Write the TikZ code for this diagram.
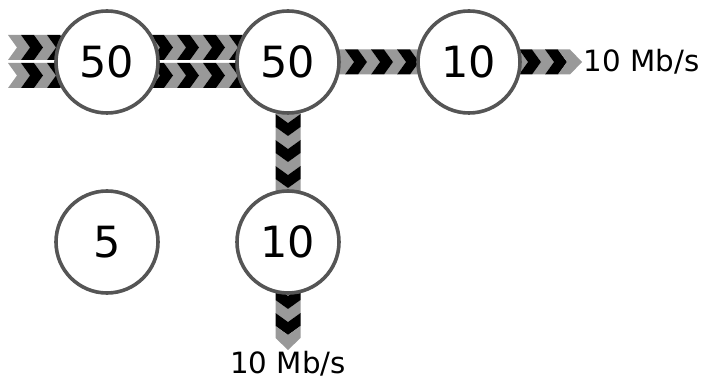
\documentclass[tikz,border=0pt]{standalone}
\usepackage{fontspec}
\setmainfont{DejaVu Sans}
\usetikzlibrary{decorations.markings,backgrounds}

\definecolor{bandgray}{RGB}{153,153,153}
\definecolor{ringgray}{RGB}{85,85,85}

% one stripe of a chevron band, pointing along the path
\newcommand\chevron[1]{\fill[#1] (0pt,-12.5pt) -- (13pt,-12.5pt) -- (22pt,0pt) -- (13pt,12.5pt) -- (0pt,12.5pt) -- (9pt,0pt) -- cycle;}
% the closing stripe with an arrow point
\newcommand\chevtip[1]{\fill[#1] (0pt,-12.5pt) -- (12pt,-12.5pt) -- (24pt,0pt) -- (12pt,12.5pt) -- (0pt,12.5pt) -- (9pt,0pt) -- cycle;}

\tikzset{
  hub/.style={circle, draw=ringgray, line width=3.6pt, fill=white,
    minimum size=102pt, inner sep=0pt, font=\fontsize{43}{43}\selectfont},
  rate/.style={inner sep=0pt, font=\fontsize{29.3}{29.3}\selectfont},
  % args: first grey stripe, first black stripe
  band/.style n args={2}{decorate, decoration={markings,
    mark=between positions #1 and 1 step 26pt with {\chevron{bandgray}},
    mark=between positions #2 and 1 step 26pt with {\chevron{black}}}},
  % args: first grey, last grey, first black, last black, arrow point start
  arrowband/.style n args={5}{decorate, decoration={markings,
    mark=between positions #1 and #2 step 26pt with {\chevron{bandgray}},
    mark=between positions #3 and #4 step 26pt with {\chevron{black}},
    mark=at position #5 with {\chevtip{bandgray}}}},
}

\begin{document}
\begin{tikzpicture}[x=1pt,y=1pt]
  \useasboundingbox (0,0) rectangle (703,380);

  % switches
  \node[hub] (a) at (107,318) {50};
  \node[hub] (b) at (288,318) {50};
  \node[hub] (c) at (469,318) {10};
  \node[hub] (d) at (107,138) {5};
  \node[hub] (e) at (288,138) {10};

  % free ends of the links
  \coordinate (in1) at (8,332.5);
  \coordinate (in2) at (8,304.5);
  \coordinate (out1) at (582,318);
  \coordinate (out2) at (288,30);

  % outgoing rates
  \node[rate, anchor=base west] (r1) at (583.5,308.5) {10 Mb/s};
  \node[rate, anchor=base] (r2) at (288,7) {10 Mb/s};

  % chevron links, under the switches
  \begin{scope}[on background layer]
    \path[band={0pt}{13pt}] (in1) -- (in1 -| b.center);
    \path[band={0pt}{13pt}] (in2) -- (in2 -| b.center);
    \path[band={18pt}{5pt}] (b.center) -- (c.center);
    \path[band={13pt}{0pt}] (b.center) -- (e.center);
    \path[arrowband={11pt}{73pt}{24pt}{83pt}{89pt}] (c.center) -- (out1);
    \path[arrowband={6pt}{68pt}{19pt}{78pt}{84pt}] (e.center) -- (out2);
  \end{scope}
\end{tikzpicture}
\end{document}
